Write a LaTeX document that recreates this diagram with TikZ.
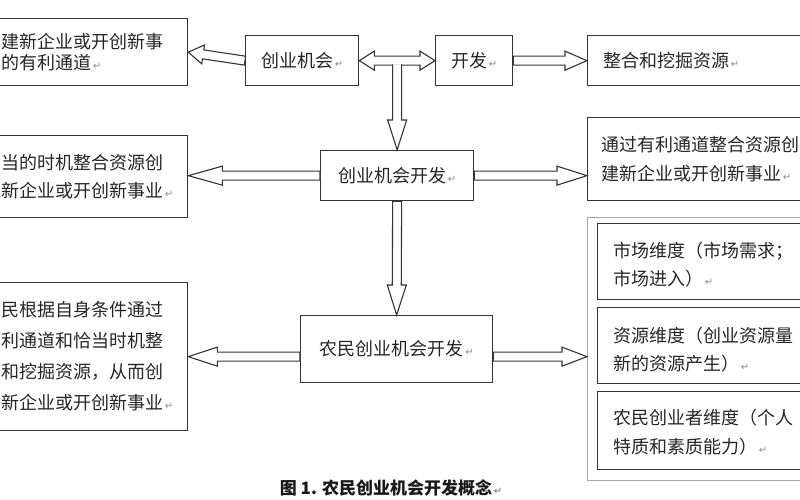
\documentclass[tikz,border=0pt]{standalone}
\usepackage{fontspec}
\setmainfont{Noto Sans CJK SC}
\newfontfamily\djv{DejaVu Sans}
\usetikzlibrary{calc}
\newcommand\retmark{{\djv\fontsize{10}{10}\selectfont\color{black!45}\,↵}}
\newcommand\sw{4.5pt}
\newcommand\hw{9.5pt}
% single-headed hollow arrow: #1 start, #2 tip, #3 head length
\newcommand\harrow[3]{%
  \coordinate (hA) at #1; \coordinate (hB) at #2;
  \coordinate (hH) at ($(hB)!#3!(hA)$);
  \filldraw[arrowsty] ($(hA)!\sw!90:(hB)$) -- ($(hH)!\sw!90:(hB)$) -- ($(hH)!\hw!90:(hB)$) -- (hB)
    -- ($(hH)!\hw!-90:(hB)$) -- ($(hH)!\sw!-90:(hB)$) -- ($(hA)!\sw!-90:(hB)$) -- cycle;}
% same, open at the start
\newcommand\harrowopen[3]{%
  \coordinate (hA) at #1; \coordinate (hB) at #2;
  \coordinate (hH) at ($(hB)!#3!(hA)$);
  \filldraw[arrowsty] ($(hA)!\sw!90:(hB)$) -- ($(hH)!\sw!90:(hB)$) -- ($(hH)!\hw!90:(hB)$) -- (hB)
    -- ($(hH)!\hw!-90:(hB)$) -- ($(hH)!\sw!-90:(hB)$) -- ($(hA)!\sw!-90:(hB)$);}
% double-headed hollow arrow
\newcommand\dharrow[3]{%
  \coordinate (dA) at #1; \coordinate (dB) at #2;
  \coordinate (dH1) at ($(dA)!#3!(dB)$); \coordinate (dH2) at ($(dB)!#3!(dA)$);
  \filldraw[arrowsty] (dA) -- ($(dH1)!\hw!90:(dB)$) -- ($(dH1)!\sw!90:(dB)$) -- ($(dH2)!\sw!-90:(dA)$)
    -- ($(dH2)!\hw!-90:(dA)$) -- (dB) -- ($(dH2)!\hw!90:(dA)$) -- ($(dH2)!\sw!90:(dA)$)
    -- ($(dH1)!\sw!-90:(dB)$) -- ($(dH1)!\hw!-90:(dB)$) -- cycle;}
\begin{document}
\begin{tikzpicture}[x=1pt,y=-1pt,
  box/.style={draw=black!80, line width=1.3pt, inner sep=0pt, anchor=north west},
  gbox/.style={draw=black!35, line width=1.2pt, inner sep=0pt, anchor=north west},
  ctxt/.style={text=black!85, font=\fontsize{18}{21}\selectfont},
  txt/.style={anchor=west, align=left, inner sep=0pt, text=black!85},
  arrowsty/.style={draw=black!80, fill=white, line width=1.1pt, line join=miter}
]
\useasboundingbox (0,0) rectangle (800,500);
\clip (0,0) rectangle (800,500);
\fill[white] (0,0) rectangle (800,500);

% boxes
\node[box, minimum width=240pt, minimum height=67pt] (A) at (-53,18) {};
\node[box, minimum width=113pt, minimum height=50pt, ctxt] (cyjh) at (245,35) {创业机会\retmark};
\node[box, minimum width=77pt, minimum height=50pt, ctxt] (kf) at (435,35) {开发\retmark};
\node[box, minimum width=260pt, minimum height=50pt] (zh) at (587,35) {};
\node[box, minimum width=240pt, minimum height=82pt] (B) at (-53,135) {};
\node[box, minimum width=153pt, minimum height=50pt, ctxt] (kfa) at (320,150) {创业机会开发\retmark};
\node[box, minimum width=260pt, minimum height=83pt] (C) at (587,117) {};
\node[box, minimum width=192pt, minimum height=67pt, ctxt] (nm) at (300,315) {农民创业机会开发\retmark};
\node[box, minimum width=240pt, minimum height=148pt] (D) at (-53,282) {};
\node[gbox, minimum width=260pt, minimum height=263pt] (G) at (587,217) {};
\node[box, minimum width=250pt, minimum height=76pt] (m1) at (597,223) {};
\node[box, minimum width=250pt, minimum height=76pt] (m2) at (597,307) {};
\node[box, minimum width=250pt, minimum height=78pt] (m3) at (597,391) {};

% texts
\node[txt, font=\fontsize{18}{21}\selectfont] (tA) at ($(A.west)+(54,0)$) {建新企业或开创新事\\的有利通道\retmark};
\node[txt, font=\fontsize{18}{28}\selectfont] (tB) at ($(B.west)+(54,0)$) {当的时机整合资源创\\新企业或开创新事业\retmark};
\node[txt, font=\fontsize{18}{31}\selectfont] (tD) at ($(D.west)+(54,0)$) {民根据自身条件通过\\利通道和恰当时机整\\和挖掘资源，从而创\\新企业或开创新事业\retmark};
\node[txt, font=\fontsize{18}{21}\selectfont] (tzh) at ($(zh.west)+(16,0)$) {整合和挖掘资源\retmark};
\node[txt, font=\fontsize{18}{29}\selectfont] (tC) at ($(C.west)+(14,0)$) {通过有利通道整合资源创\\建新企业或开创新事业\retmark};
\node[txt, font=\fontsize{18}{28}\selectfont] (t1) at ($(m1.west)+(16,3)$) {市场维度（市场需求；\\市场进入）\retmark};
\node[txt, font=\fontsize{18}{28}\selectfont] (t2) at ($(m2.west)+(16,4)$) {资源维度（创业资源量\\新的资源产生）\retmark};
\node[txt, font=\fontsize{18}{29}\selectfont] (t3) at ($(m3.west)+(16,2)$) {农民创业者维度（个人\\特质和素质能力）\retmark};

% caption
\node[text=black!90, font=\fontsize{17}{20}\selectfont\bfseries] (cap) at (391,488) {图 1. 农民创业机会开发概念\retmark};

% arrows
\harrow{(cyjh.west)}{(A.east)}{15pt}
\dharrow{(cyjh.east)}{(kf.west)}{15pt}
\harrowopen{($(kfa.north|-cyjh.east)+(0,3.8)$)}{(kfa.north)}{30pt}
\harrow{(kf.east)}{(zh.west)}{22pt}
\harrow{(kfa.west)}{(B.east|-kfa.west)}{34pt}
\harrow{(kfa.east)}{(C.west|-kfa.east)}{30pt}
\harrow{(kfa.south)}{(nm.north)}{30pt}
\harrow{(nm.west|-D.east)}{(D.east)}{29pt}
\harrow{(nm.east|-D.east)}{(G.west|-D.east)}{25pt}
\end{tikzpicture}
\end{document}
